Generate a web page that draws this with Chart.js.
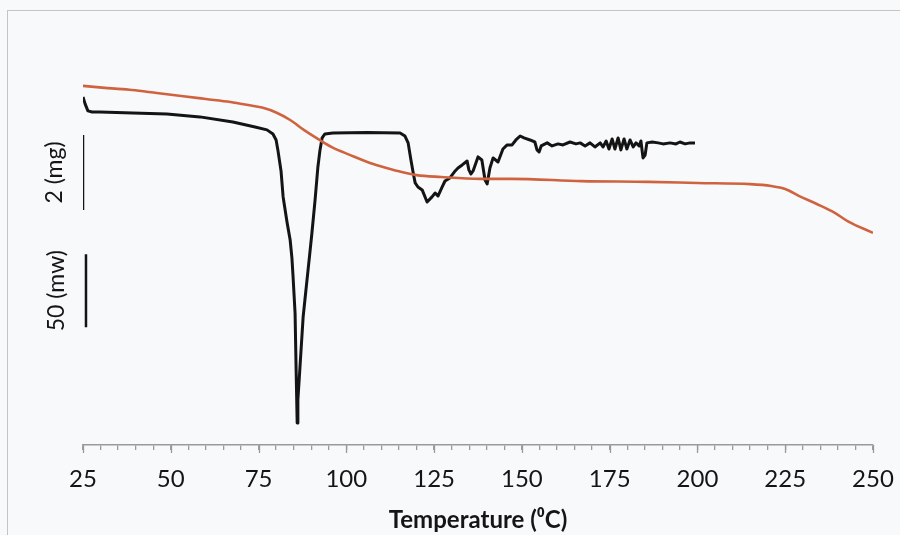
<!DOCTYPE html>
<html>
<head>
<meta charset="utf-8">
<script src="https://cdn.jsdelivr.net/npm/chart.js@4/dist/chart.umd.min.js"></script>
<style>
  html, body { margin:0; padding:0; background:#f8f9fb; overflow:hidden; }
  #wrap { position:relative; width:900px; height:535px; }
  #frame { position:absolute; left:7px; top:10px; width:1000px; height:600px; border:1px solid #c4c4c4; box-sizing:border-box; }
  canvas { position:absolute; left:0; top:0; }
</style>
</head>
<body>
<div id="wrap">
  <div id="frame"></div>
  <canvas id="c" width="900" height="535"></canvas>
</div>
<script>
// Temperature axis ticks (°C)
const temperatureTicks = [25, 50, 75, 100, 125, 150, 175, 200, 225, 250];

// DSC curve: temperature (°C) and heat flow (mW, relative)
const dscTemp = [25.0, 25.6, 26.4, 27.6, 29.8, 39.2, 48.9, 58.3, 67.7, 74.0, 77.4, 79.1, 80.0, 80.5, 81.4, 82.0, 83.1, 84.0, 84.5, 84.8, 85.4, 85.7, 86.0, 86.2, 86.8, 87.7, 88.2, 89.1, 89.7, 90.2, 91.1, 91.9, 92.5, 93.1, 93.9, 96.2, 105.9, 115.3, 116.7, 117.6, 118.4, 119.0, 119.6, 120.4, 121.6, 123.0, 124.4, 125.3, 126.1, 127.3, 128.1, 129.5, 131.0, 131.8, 133.0, 134.4, 134.9, 135.5, 136.1, 137.5, 138.6, 139.5, 140.1, 140.9, 141.8, 143.2, 144.6, 145.8, 147.2, 148.3, 149.5, 150.6, 152.3, 153.7, 154.3, 154.9, 155.5, 157.2, 158.6, 160.3, 161.7, 163.7, 165.4, 166.6, 168.0, 169.4, 170.8, 172.3, 173.1, 174.0, 174.8, 175.7, 176.5, 177.4, 178.2, 179.1, 179.9, 180.8, 181.7, 182.5, 183.4, 183.9, 184.5, 185.1, 185.6, 187.1, 188.8, 190.2, 192.2, 193.9, 195.0, 196.5, 197.9, 199.3];
const dscHeatFlow = [24.7, 19.9, 15.1, 14.4, 14.4, 13.7, 13.0, 11.0, 7.5, 4.1, 2.1, -0.7, -4.8, -11.6, -26.0, -43.8, -61.0, -73.3, -85.6, -97.3, -123.3, -162.3, -198.6, -182.9, -160.3, -126.0, -114.4, -93.8, -80.1, -68.5, -45.9, -23.3, -11.6, -3.4, -0.7, 0.0, 0.3, 0.0, -2.1, -6.8, -18.5, -26.7, -34.2, -37.0, -39.0, -47.3, -43.8, -41.1, -43.2, -37.0, -32.9, -30.8, -26.0, -24.0, -21.9, -19.2, -25.3, -28.1, -26.0, -16.4, -18.5, -32.2, -34.9, -24.0, -17.1, -19.9, -11.0, -8.2, -8.2, -4.8, -2.1, -3.4, -4.8, -6.2, -11.6, -13.0, -8.9, -6.8, -8.9, -7.5, -8.2, -6.2, -7.5, -6.8, -8.9, -6.8, -9.6, -6.8, -9.6, -5.5, -11.0, -4.1, -11.0, -3.4, -11.6, -4.1, -11.0, -4.8, -9.6, -6.8, -8.9, -5.5, -17.1, -15.1, -6.8, -6.2, -6.8, -7.5, -6.8, -7.5, -6.2, -7.5, -6.8, -6.8];

// TGA curve: temperature (°C) and mass (mg)
const tgaTemp = [25, 32, 39, 46, 53, 60, 67, 72, 76, 80, 84, 88, 92, 96, 101, 106, 110, 115, 120, 127, 138, 147, 167, 186, 200, 215, 221, 225, 229, 234, 239, 243, 250];
const tgaMass = [10.03, 9.97, 9.92, 9.84, 9.76, 9.68, 9.60, 9.52, 9.45, 9.32, 9.12, 8.85, 8.61, 8.39, 8.19, 8.00, 7.88, 7.75, 7.65, 7.60, 7.55, 7.55, 7.49, 7.47, 7.44, 7.41, 7.36, 7.28, 7.09, 6.88, 6.65, 6.41, 6.11];

// Scale bars: 2 mg (mass axis) and 50 mW (heat-flow axis)
const massBarTemp = [25, 25];
const massBarMass = [8.72, 6.72];
const heatBarTemp = [25.85, 25.85];
const heatBarFlow = [-83, -133];
const massBarLabel = '2 (mg)';
const heatBarLabel = '50 (mw)';

const toPts = (xs, ys) => xs.map((x, i) => ({x: x, y: ys[i]}));

const majorTicksPlugin = {
  id: 'majorTicks',
  afterDraw(chart) {
    const ctx = chart.ctx, xs = chart.scales.x;
    ctx.save();
    ctx.strokeStyle = '#9a9a9a';
    ctx.lineWidth = 1.3;
    temperatureTicks.forEach(t => {
      const px = Math.round(xs.getPixelForValue(t)) + 0.5;
      ctx.beginPath();
      ctx.moveTo(px, xs.top);
      ctx.lineTo(px, xs.top + 8);
      ctx.stroke();
    });
    // scale bar labels
    const yM = chart.scales.yMass, yH = chart.scales.yHeat;
    ctx.fillStyle = '#151515';
    ctx.font = '23px Lato, "Open Sans", sans-serif';
    ctx.textAlign = 'center';
    ctx.textBaseline = 'middle';
    const lab = (txt, xPix, yPix) => {
      ctx.save();
      ctx.translate(xPix, yPix);
      ctx.rotate(-Math.PI / 2);
      ctx.fillText(txt, 0, 0);
      ctx.restore();
    };
    const x0 = xs.getPixelForValue(25);
    lab(massBarLabel, x0 - 28, (yM.getPixelForValue(massBarMass[0]) + yM.getPixelForValue(massBarMass[1])) / 2);
    lab(heatBarLabel, x0 - 26, (yH.getPixelForValue(heatBarFlow[0]) + yH.getPixelForValue(heatBarFlow[1])) / 2);
    ctx.restore();
  }
};

new Chart(document.getElementById('c'), {
  type: 'line',
  data: {
    datasets: [
      { label: 'TGA', data: toPts(tgaTemp, tgaMass), yAxisID: 'yMass', borderColor: '#d0633f', borderWidth: 2.6, pointRadius: 0, cubicInterpolationMode: 'monotone', fill: false },
      { label: 'DSC', data: toPts(dscTemp, dscHeatFlow), yAxisID: 'yHeat', borderColor: '#141414', borderWidth: 3, pointRadius: 0, tension: 0, fill: false, borderJoinStyle: 'round' },
      { label: 'mass bar', data: toPts(massBarTemp, massBarMass), yAxisID: 'yMass', borderColor: '#141414', borderWidth: 2.5, pointRadius: 0 },
      { label: 'heat bar', data: toPts(heatBarTemp, heatBarFlow), yAxisID: 'yHeat', borderColor: '#141414', borderWidth: 2.5, pointRadius: 0 }
    ]
  },
  options: {
    responsive: false,
    animation: false,
    devicePixelRatio: 1,
    layout: { padding: { left: 83, right: 27, top: 10, bottom: 0 } },
    plugins: { legend: { display: false }, tooltip: { enabled: false } },
    scales: {
      x: {
        type: 'linear',
        min: 25, max: 250,
        afterFit(scale) { scale.height = 90; scale.paddingLeft = 0; scale.paddingRight = 0; },
        grid: { drawOnChartArea: false, drawTicks: true, tickLength: 5, color: '#9a9a9a', lineWidth: 1.3 },
        border: { display: true, color: '#9a9a9a', width: 1.5 },
        ticks: {
          stepSize: 5,
          autoSkip: false,
          maxRotation: 0,
          padding: 15,
          color: '#151515',
          font: { family: 'Lato, "Open Sans", sans-serif', size: 24 },
          callback: (v) => temperatureTicks.includes(v) ? String(v) : ''
        },
        title: {
          display: true,
          text: 'Temperature (⁰C)',
          color: '#151515',
          font: { family: 'Lato, "Open Sans", sans-serif', size: 24, weight: 'bold' },
          padding: { top: 0, bottom: 0 }
        }
      },
      yHeat: { type: 'linear', display: false, min: -213.7, max: 84.2 },
      yMass: { type: 'linear', display: false, min: 0.453, max: 12.053 }
    }
  },
  plugins: [majorTicksPlugin]
});
</script>
</body>
</html>
